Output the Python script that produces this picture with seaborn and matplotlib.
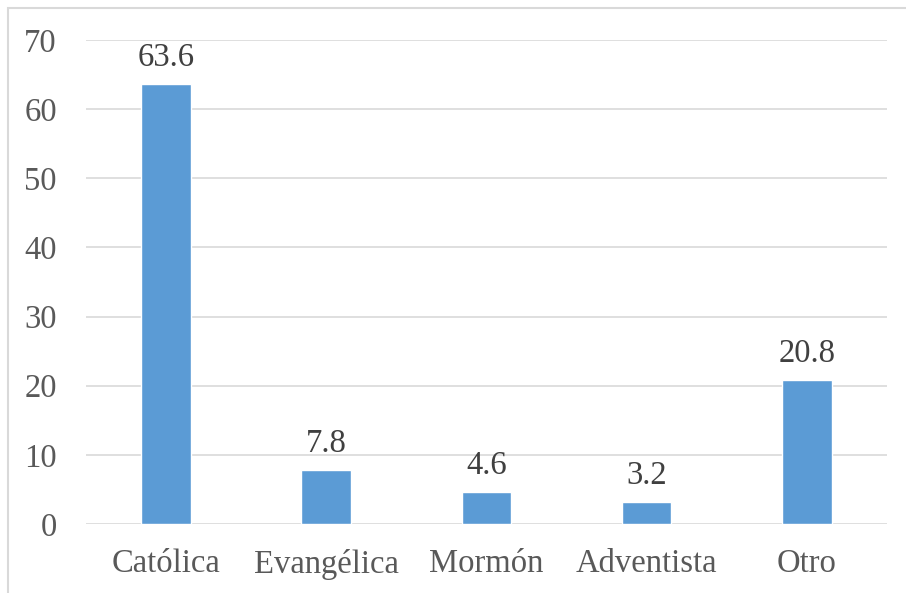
import matplotlib
matplotlib.use("Agg")
import matplotlib.pyplot as plt
from matplotlib.patches import Rectangle
import seaborn as sns
import pandas as pd

categories = ["Católica", "Evangélica", "Mormón", "Adventista", "Otro"]
values = [63.6, 7.8, 4.6, 3.2, 20.8]
yticks = [0, 10, 20, 30, 40, 50, 60, 70]

sns.set_theme(style="white")
plt.rcParams["font.family"] = ["Liberation Serif", "DejaVu Serif"]

df = pd.DataFrame({"religion": categories, "pct": values})

fig = plt.figure(figsize=(9.06, 5.93), dpi=100)
ax = fig.add_axes([0.0949, 0.1164, 0.884, 0.8161])

sns.barplot(data=df, x="religion", y="pct", color="#5B9BD5", saturation=1,
            width=0.31, ax=ax, zorder=3)

ax.set_ylim(0, 70)
ax.set_yticks(yticks)
ax.set_xlim(-0.5, len(categories) - 0.5)
ax.yaxis.grid(True, color="#d9d9d9", linewidth=1.2, zorder=0)
ax.xaxis.grid(False)
for s in ax.spines.values():
    s.set_visible(False)
ax.set_xlabel("")
ax.set_ylabel("")
ax.tick_params(axis="both", length=0, labelsize=23.5, colors="#595959")
ax.tick_params(axis="y", pad=21)
ax.tick_params(axis="x", pad=18)

for i, v in enumerate(values):
    ax.annotate(f"{v:.1f}", (i, v), xytext=(0, 8), textcoords="offset points",
                ha="center", va="bottom", fontsize=23.5, color="#404040")

# light frame around the chart area
fig.patches.append(Rectangle((8 / 906, -0.1), 1.2, 1 - 8 / 593 + 0.1,
                             transform=fig.transFigure, fill=False,
                             edgecolor="#d9d9d9", linewidth=1.5))

fig.savefig("out.png", dpi=100)
